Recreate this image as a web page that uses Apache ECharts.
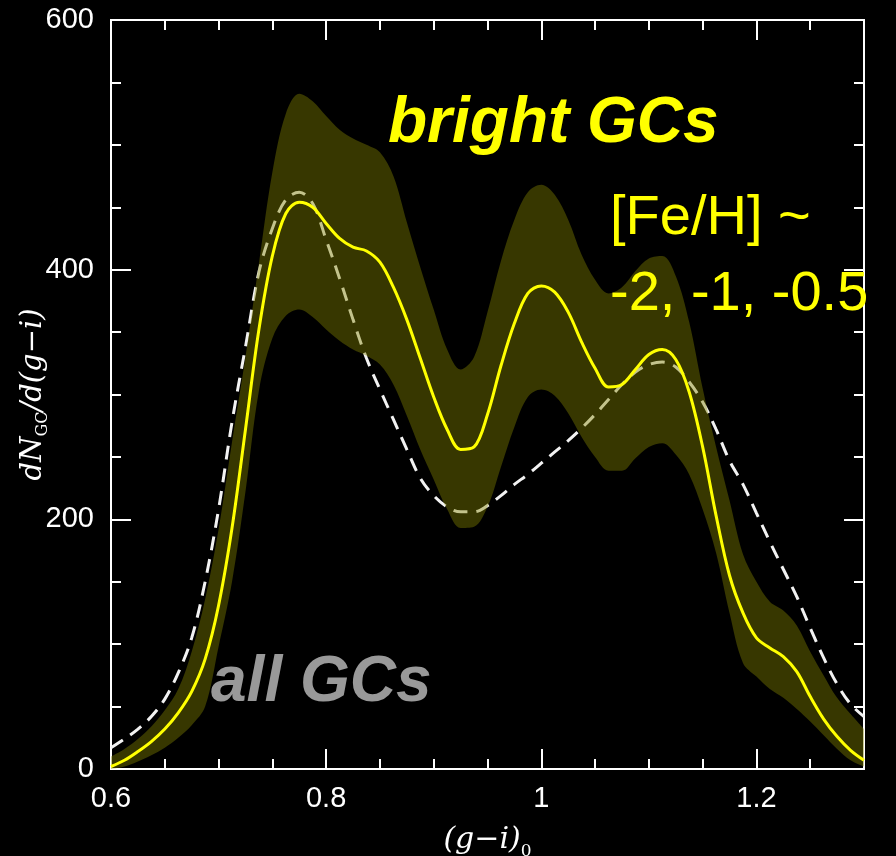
<!DOCTYPE html>
<html>
<head>
<meta charset="utf-8">
<script src="https://cdn.jsdelivr.net/npm/echarts@6/dist/echarts.min.js"></script>
<style>
html,body{margin:0;padding:0;background:#000;}
#c{width:896px;height:856px;}
</style>
</head>
<body>
<div id="c"></div>
<script>
// colour (g-i)_0 sample positions (evenly spaced, 0.0125 apart)
var colorX = [0.6,0.6125,0.625,0.6375,0.65,0.6625,0.675,0.6875,0.7,0.7125,0.725,0.7375,0.75,0.7625,0.775,0.7875,0.8,0.8125,0.825,0.8375,0.85,0.8625,0.875,0.8875,0.9,0.9125,0.925,0.9375,0.95,0.9625,0.975,0.9875,1.0,1.0125,1.025,1.0375,1.05,1.0625,1.075,1.0875,1.1,1.1125,1.125,1.1375,1.15,1.1625,1.175,1.1875,1.2,1.2125,1.225,1.2375,1.25,1.2625,1.275,1.2875,1.3];
// bright GCs mean density (yellow line)
var brightGCs = [2,7,14,22,32,45,62,88,131,193,272,352,411,445,454,450,437,425,418,415,406,386,360,329,298,272,256,258,284,323,357,381,387,382,366,342,321,306,308,320,332,336,328,302,258,203,155,125,105,97,90,78,58,40,26,15,7];
// bright GCs confidence band
var bandUpper = [10,16,24,34,47,64,94,136,192,262,330,405,478,525,541,535,523,512,505,500,494,475,438,402,368,336,320,330,366,407,440,462,468,460,440,412,392,381,386,399,409,411,395,358,305,258,215,172,150,134,127,115,94,75,57,44,32];
var bandLower = [0,2,6,11,17,25,35,50,98,150,222,303,345,363,368,362,352,343,336,331,324,308,283,256,232,208,193,194,210,242,274,298,304,299,285,266,250,239,239,249,258,261,252,236,208,173,125,85,74,64,57,48,38,27,16,7,2];
// all GCs density (dashed line)
var allGCs = [17,24,32,42,56,77,105,150,208,278,338,398,433,456,462,453,424,393,360,329,304,280,256,233,219,210,206,206,211,219,228,236,245,254,263,273,284,296,308,318,324,326,322,310,294,272,247,228,205,182,160,138,113,89,68,52,42];
// axis tick values
var xMajorTicks = [0.6, 0.8, 1, 1.2];
var yMajorTicks = [0, 200, 400, 600];

var xMin = 0.6, xMax = 1.3, yMin = 0, yMax = 600;
var bandDiff = bandUpper.map(function(u,i){ return u - bandLower[i]; });

var W = '#ffffff';
function xAxisDef(pos, interval, len, labels, extra){
  var a = {
    type:'value', position:pos, min:xMin, max:xMax, interval:interval,
    axisLine:{show:true, onZero:false, lineStyle:{color:W, width:2}},
    axisTick:{show:true, inside:true, length:len, lineStyle:{color:W, width:2}},
    splitLine:{show:false},
    axisLabel:{show:labels, color:W, fontFamily:'Liberation Sans', fontSize:29, margin:15, showMaxLabel:false,
      formatter:function(v){ var r = Math.round(v*10)/10; return xMajorTicks.indexOf(r) >= 0 ? String(r) : ''; }}
  };
  if (extra) for (var k in extra) a[k]=extra[k];
  return a;
}
function yAxisDef(pos, interval, len, labels, extra){
  var a = {
    type:'value', position:pos, min:yMin, max:yMax, interval:interval,
    axisLine:{show:true, onZero:false, lineStyle:{color:W, width:2}},
    axisTick:{show:true, inside:true, length:len, lineStyle:{color:W, width:2}},
    splitLine:{show:false},
    axisLabel:{show:labels, color:W, fontFamily:'Liberation Sans', fontSize:29, margin:17,
      formatter:function(v){ return yMajorTicks.indexOf(v) >= 0 ? String(v) : ''; }}
  };
  if (extra) for (var k in extra) a[k]=extra[k];
  return a;
}

var chart = echarts.init(document.getElementById('c'), null, {renderer:'canvas'});
chart.setOption({
  backgroundColor:'#000',
  animation:false,
  grid:{left:111, right:32, top:20, bottom:87, containLabel:false, outerBoundsMode:'none'},
  xAxis:[
    // data axis for the series (evenly spaced colour samples)
    {type:'category', data:colorX, boundaryGap:false, show:false, position:'bottom'},
    xAxisDef('bottom', 0.2, 20, true, {
      name:'{m|(g\u2212i)}{s|0}', nameLocation:'middle', nameGap:51,
      nameTextStyle:{color:W, rich:{
        m:{fontFamily:'DejaVu Serif', fontStyle:'italic', fontSize:30, color:W, lineHeight:40, verticalAlign:'middle'},
        s:{fontFamily:'DejaVu Serif', fontSize:17, color:W, lineHeight:17, verticalAlign:'bottom'}
      }}
    }),
    xAxisDef('bottom', 0.05, 10, false),
    xAxisDef('top', 0.2, 20, false),
    xAxisDef('top', 0.05, 10, false)
  ],
  yAxis:[
    yAxisDef('left', 200, 20, true, {
      name:'{m|dN}{s|GC}{m|/d(g\u2212i)}', nameLocation:'middle', nameGap:60, nameRotate:90,
      nameMoveOverlap:false,
      nameTextStyle:{color:W, rich:{
        m:{fontFamily:'DejaVu Serif', fontStyle:'italic', fontSize:29, color:W, lineHeight:36, verticalAlign:'middle'},
        s:{fontFamily:'DejaVu Serif', fontSize:16, color:W, lineHeight:16, verticalAlign:'bottom'}
      }}
    }),
    yAxisDef('left', 50, 10, false),
    yAxisDef('right', 200, 20, false),
    yAxisDef('right', 50, 10, false)
  ],
  series:[
    {
      name:'all GCs', type:'line', xAxisIndex:0, yAxisIndex:0, data:allGCs, smooth:0.35, symbol:'none',
      lineStyle:{color:'#f2f2f2', width:3, type:[14,9]}, z:2
    },
    {
      name:'band lower', type:'line', xAxisIndex:0, yAxisIndex:0, stack:'band', data:bandLower, smooth:0.35, symbol:'none',
      lineStyle:{width:0, opacity:0}, areaStyle:{opacity:0}, z:3
    },
    {
      name:'band', type:'line', xAxisIndex:0, yAxisIndex:0, stack:'band', data:bandDiff, smooth:0.35, symbol:'none',
      lineStyle:{width:0, opacity:0}, areaStyle:{color:'rgba(130,130,0,0.42)', opacity:1}, z:3
    },
    {
      name:'bright GCs', type:'line', xAxisIndex:0, yAxisIndex:0, data:brightGCs, smooth:0.35, symbol:'none',
      lineStyle:{color:'#ffff00', width:3}, z:4
    }
  ],
  graphic:[
    {type:'text', left:388, top:92, z:10, style:{text:'bright GCs', fill:'#ffff00',
      font:'italic bold 64px "Liberation Sans", Arial, sans-serif'}},
    {type:'text', left:211, top:651, z:10, style:{text:'all GCs', fill:'#999999',
      font:'italic bold 64px "Liberation Sans", Arial, sans-serif'}},
    {type:'text', left:610, top:191, z:10, style:{text:'[Fe/H] ~', fill:'#ffff00',
      font:'56px "Liberation Sans", Arial, sans-serif'}},
    {type:'text', left:610, top:267, z:10, style:{text:'-2, -1, -0.5', fill:'#ffff00',
      font:'56px "Liberation Sans", Arial, sans-serif',
      shadowColor:'rgba(0,0,0,0.95)', shadowOffsetX:3, shadowOffsetY:3, shadowBlur:0}}
  ]
});
</script>
</body>
</html>
